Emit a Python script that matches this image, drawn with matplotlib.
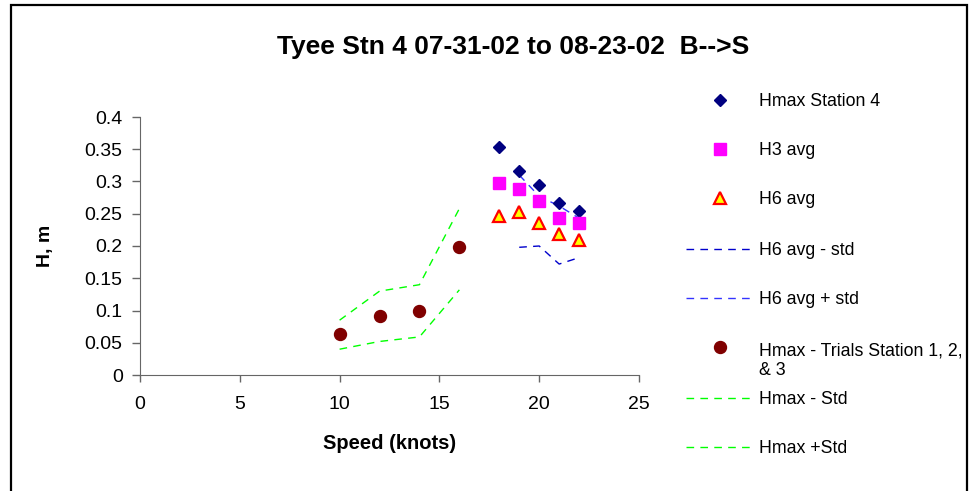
import matplotlib
matplotlib.use("Agg")
import matplotlib.pyplot as plt
from matplotlib.lines import Line2D
from matplotlib.patches import Rectangle
from matplotlib.ticker import FuncFormatter

plt.rcParams['font.family'] = ['Liberation Sans', 'DejaVu Sans']

# station 4 data
speeds_st4 = [18, 19, 20, 21, 22]
hmax_st4 = [0.353, 0.316, 0.295, 0.266, 0.255]
h3_avg = [0.297, 0.288, 0.269, 0.243, 0.235]
h6_avg = [0.247, 0.252, 0.236, 0.218, 0.210]
speeds_std = [19, 20, 21, 22]
h6_minus_std = [0.198, 0.200, 0.172, 0.182]
h6_plus_std = [0.310, 0.277, 0.262, 0.243]

# trials stations 1-3
speeds_trials = [10, 12, 14, 16]
hmax_trials = [0.063, 0.092, 0.100, 0.198]
hmax_minus_std = [0.040, 0.052, 0.059, 0.132]
hmax_plus_std = [0.085, 0.130, 0.140, 0.258]

labels = ["Hmax Station 4", "H3 avg", "H6 avg", "H6 avg - std", "H6 avg + std",
          "Hmax - Trials Station 1, 2,\n& 3", "Hmax - Std", "Hmax +Std"]

W, H = 971, 491
fig = plt.figure(figsize=(W / 100, H / 100), dpi=100)
ax = fig.add_axes([140 / W, 1 - 375 / H, 499 / W, 258 / H])

dash = (0, (5.5, 4.5))
styles = [
    dict(ls='none', marker='D', ms=6.6, color='#000080'),
    dict(ls='none', marker='s', ms=9, color='#FF00FF'),
    dict(ls='none', marker='^', ms=8, mfc='#FFFF00', mec='#FF0000', mew=1.6),
    dict(ls=dash, lw=1, color='#0000CC'),
    dict(ls=dash, lw=1, color='#3333FF'),
    dict(ls='none', marker='o', ms=8.6, color='#800000'),
    dict(ls=dash, lw=1, color='#00FF00'),
    dict(ls=dash, lw=1, color='#00FF00'),
]
series = [(speeds_st4, hmax_st4), (speeds_st4, h3_avg), (speeds_st4, h6_avg),
          (speeds_std, h6_minus_std), (speeds_std, h6_plus_std),
          (speeds_trials, hmax_trials), (speeds_trials, hmax_minus_std),
          (speeds_trials, hmax_plus_std)]

for (xs, ys), st in zip(series, styles):
    z = 3 if st.get('marker') else 2
    ax.plot(xs, ys, zorder=z, clip_on=False, **st)

ax.set_xlim(0, 25)
ax.set_ylim(0, 0.4)
ax.set_xticks(range(0, 26, 5))
ax.set_yticks([i * 0.05 for i in range(9)])
ax.yaxis.set_major_formatter(FuncFormatter(lambda v, p: f"{v:g}"))
for s in ['top', 'right']:
    ax.spines[s].set_visible(False)
for s in ['left', 'bottom']:
    ax.spines[s].set_color('#666666')
ax.tick_params(direction='out', width=1, color='#666666', labelsize=14)
ax.tick_params(axis='x', length=5, pad=10)
ax.tick_params(axis='y', length=5.5, pad=7)

ax.set_xlabel("Speed (knots)", fontsize=14.5, fontweight='bold')
ax.xaxis.set_label_coords(0.5, -0.23)
ax.set_ylabel("H, m", fontsize=14, fontweight='bold')
ax.yaxis.set_label_coords(-0.172, 0.5)

fig.text(513 / W, 1 - 47 / H, "Tyee Stn 4 07-31-02 to 08-23-02  B-->S",
         ha='center', va='center', fontsize=19, fontweight='bold')

# legend drawn by hand to keep Excel spacing
leg_fs = 12.8
line_px = 1.2 * leg_fs * 100 / 72
rows = [100, 149, 198, 249, 298, 347, 398, 447]
for lab, st, yp in zip(labels, styles, rows):
    yf = 1 - yp / H
    if st.get('marker'):
        fig.add_artist(Line2D([720 / W], [yf], transform=fig.transFigure, **st))
    else:
        fig.add_artist(Line2D([686 / W, 755 / W], [yf, yf], transform=fig.transFigure, **st))
    extra = lab.count("\n") * line_px
    fig.text(759 / W, 1 - (yp + 6.3 + extra) / H, lab, ha='left', va='baseline',
             fontsize=leg_fs, linespacing=1.2)

fig.add_artist(Rectangle((11 / W, -0.05), 956 / W, 1.05 - 5 / H, transform=fig.transFigure,
                         fill=False, lw=1.6, ec='black'))

fig.savefig("out.png", dpi=100)
